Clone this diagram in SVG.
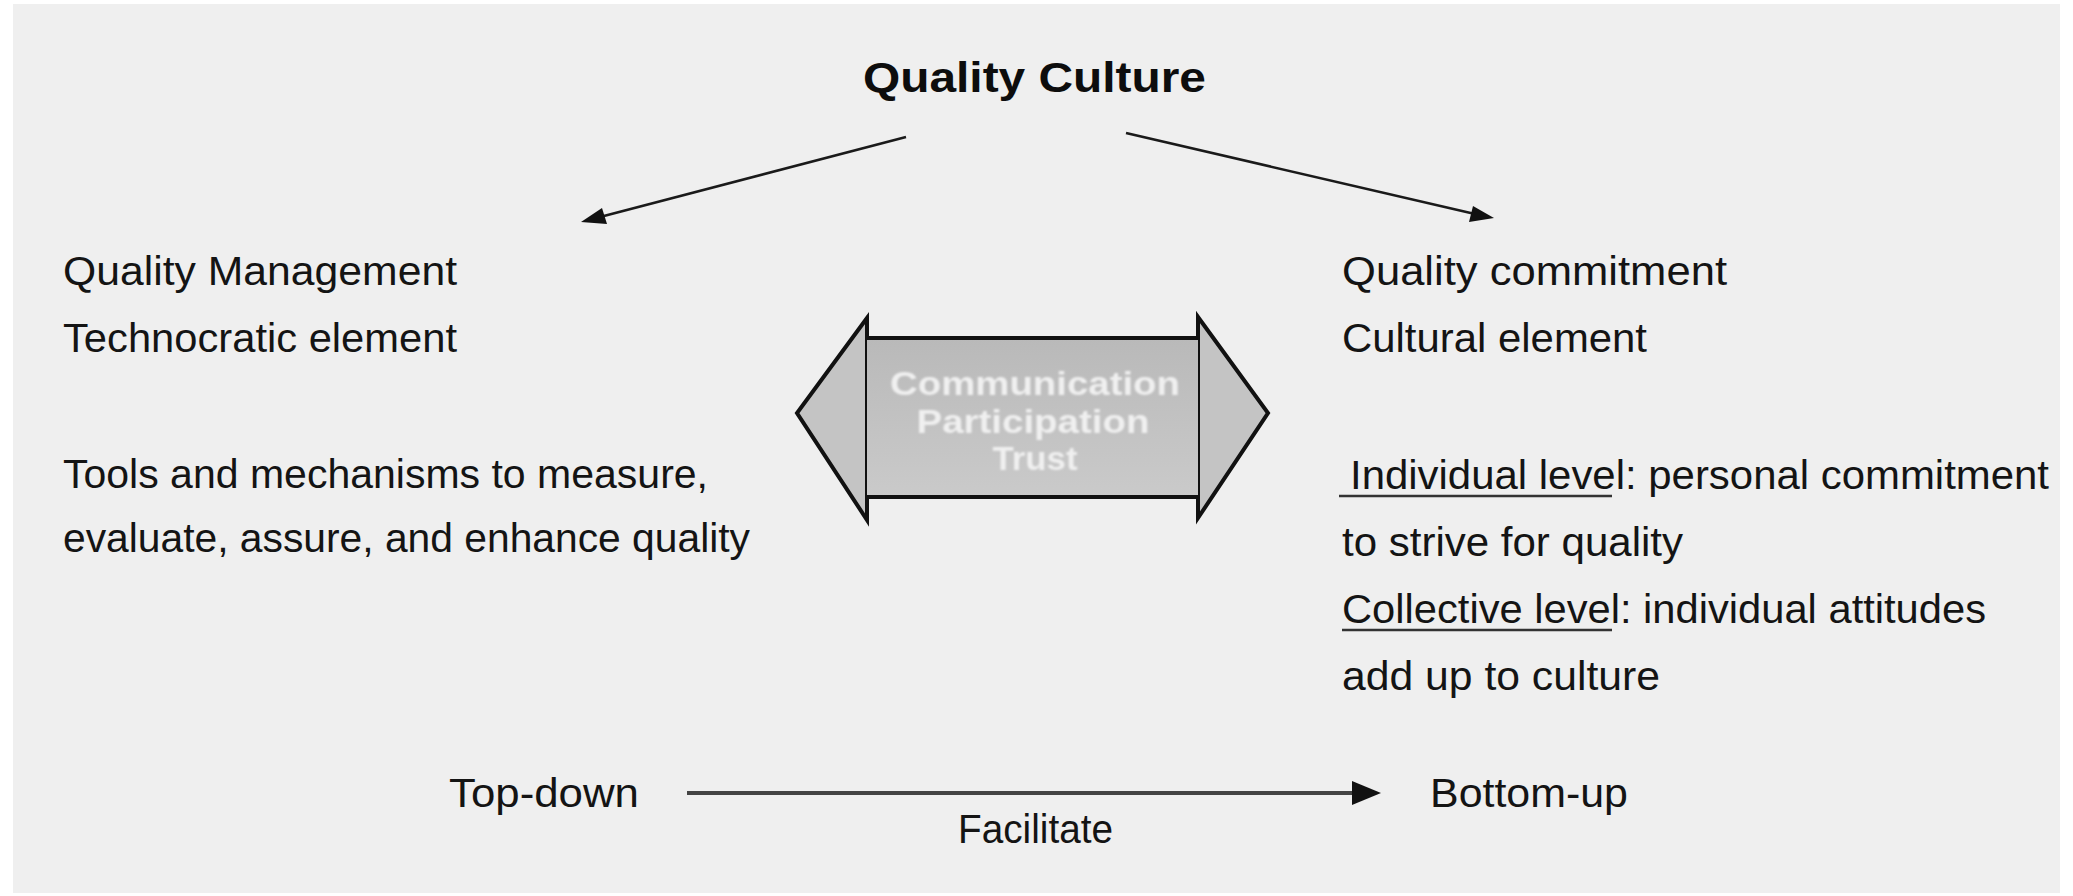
<svg xmlns="http://www.w3.org/2000/svg" width="2073" height="896" viewBox="0 0 2073 896">
  <defs>
    <style>
      .t { font-family: "Liberation Sans", Arial, sans-serif; font-size: 41px; fill: #141414; }
      .title { font-family: "Liberation Sans", Arial, sans-serif; font-size: 42px; font-weight: bold; fill: #0d0d0d; }
      .box { font-family: "Liberation Sans", Arial, sans-serif; font-size: 33px; font-weight: bold; fill: #f0f0f0; text-anchor: middle; }
      .conn { stroke: #1a1a1a; stroke-width: 2.5; fill: none; }
      .head { fill: #111; }
      .ul { stroke: #333; stroke-width: 2.5; }
      .shape { stroke: #111; stroke-width: 4; stroke-linejoin: miter; }
    </style>
    <linearGradient id="bodyGrad" x1="0" y1="0" x2="0" y2="1">
      <stop offset="0" stop-color="#b9b9b9"/>
      <stop offset="1" stop-color="#cacaca"/>
    </linearGradient>
    <filter id="soft" x="-5%" y="-20%" width="110%" height="140%">
      <feGaussianBlur stdDeviation="1.2"/>
    </filter>
  </defs>

  <rect x="0" y="0" width="2073" height="896" fill="#ffffff"/>
  <rect x="13" y="4" width="2047" height="889" fill="#efefef"/>

  <g id="connectors">
    <line class="conn" x1="906" y1="137" x2="600" y2="217"/>
    <path class="head" d="M581,222 L602,208 L607,224 z"/>
    <line class="conn" x1="1126" y1="133" x2="1475" y2="214"/>
    <path class="head" d="M1494,218 L1469,222 L1473,206 z"/>
    <line x1="687" y1="793" x2="1356" y2="793" stroke="#444" stroke-width="4"/>
    <path class="head" d="M1381,793 L1352,781 L1352,805 z"/>
  </g>

  <g id="title">
    <text class="title" x="863" y="92" textLength="343" lengthAdjust="spacingAndGlyphs">Quality Culture</text>
  </g>

  <g id="left">
    <text class="t" x="63" y="285" textLength="394" lengthAdjust="spacingAndGlyphs">Quality Management</text>
    <text class="t" x="63" y="352" textLength="394" lengthAdjust="spacingAndGlyphs">Technocratic element</text>
    <text class="t" x="63" y="488" textLength="645" lengthAdjust="spacingAndGlyphs">Tools and mechanisms to measure,</text>
    <text class="t" x="63" y="552" textLength="687" lengthAdjust="spacingAndGlyphs">evaluate, assure, and enhance quality</text>
  </g>

  <g id="right">
    <text class="t" x="1342" y="285" textLength="385" lengthAdjust="spacingAndGlyphs">Quality commitment</text>
    <text class="t" x="1342" y="352" textLength="305" lengthAdjust="spacingAndGlyphs">Cultural element</text>
    <text class="t" x="1350" y="489" textLength="699" lengthAdjust="spacingAndGlyphs">Individual level: personal commitment</text>
    <line class="ul" x1="1339" y1="496" x2="1612" y2="496"/>
    <text class="t" x="1342" y="556" textLength="341" lengthAdjust="spacingAndGlyphs">to strive for quality</text>
    <text class="t" x="1342" y="623" textLength="644" lengthAdjust="spacingAndGlyphs">Collective level: individual attitudes</text>
    <line class="ul" x1="1342" y1="630" x2="1612" y2="630"/>
    <text class="t" x="1342" y="690" textLength="318" lengthAdjust="spacingAndGlyphs">add up to culture</text>
  </g>

  <g id="center-arrow">
    <polygon class="shape" points="867,318 797,413 867,520" fill="#c4c4c4"/>
    <polygon class="shape" points="1198,317 1268,413 1198,518" fill="#c4c4c4"/>
    <rect x="867" y="338" width="331" height="159" fill="url(#bodyGrad)"/>
    <line class="shape" x1="867" y1="338" x2="1198" y2="338"/>
    <line class="shape" x1="867" y1="497" x2="1198" y2="497"/>
    <g filter="url(#soft)">
      <text class="box" x="1035" y="395" textLength="290" lengthAdjust="spacingAndGlyphs">Communication</text>
      <text class="box" x="1033" y="433" textLength="233" lengthAdjust="spacingAndGlyphs">Participation</text>
      <text class="box" x="1035" y="470" textLength="85" lengthAdjust="spacingAndGlyphs">Trust</text>
    </g>
  </g>

  <g id="bottom">
    <text class="t" x="449" y="807" textLength="190" lengthAdjust="spacingAndGlyphs">Top-down</text>
    <text class="t" x="1430" y="807" textLength="198" lengthAdjust="spacingAndGlyphs">Bottom-up</text>
    <text class="t" x="958" y="843" textLength="155" lengthAdjust="spacingAndGlyphs">Facilitate</text>
  </g>
</svg>
